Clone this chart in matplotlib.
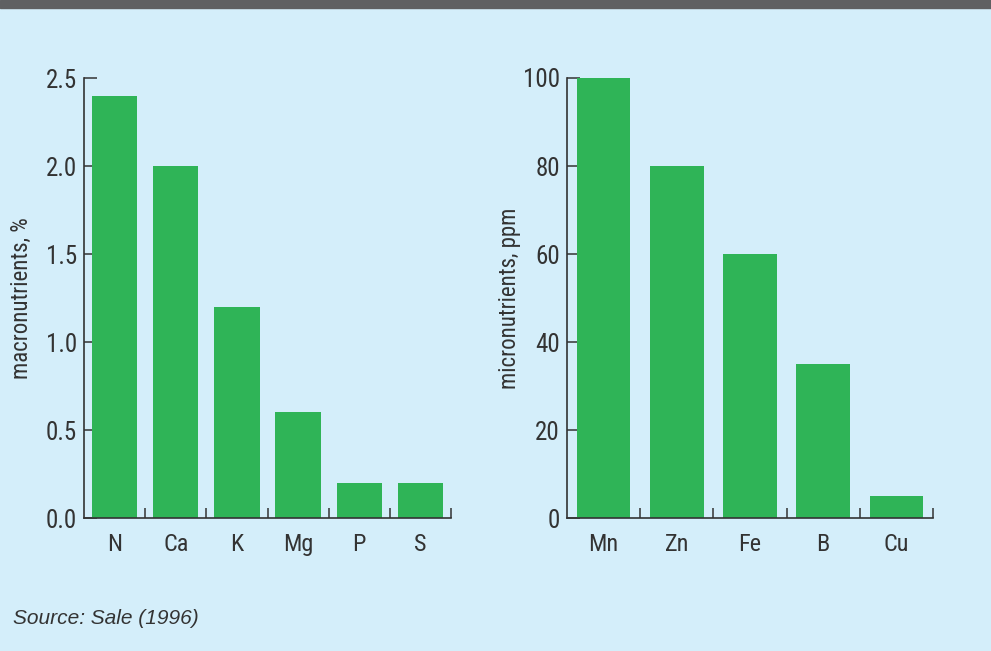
import matplotlib.pyplot as plt
from matplotlib.patches import Rectangle

narrow = ["Roboto Condensed", "Liberation Sans", "DejaVu Sans"]

macro_names = ["N", "Ca", "K", "Mg", "P", "S"]
macro_vals = [2.4, 2.0, 1.2, 0.6, 0.2, 0.2]
micro_names = ["Mn", "Zn", "Fe", "B", "Cu"]
micro_vals = [100, 80, 60, 35, 5]

bg = "#d4eefa"
green = "#2fb457"
ink = "#333333"

fig = plt.figure(figsize=(9.91, 6.51), dpi=100, facecolor=bg)
fig.patches.append(Rectangle((0, 1 - 8 / 651), 1, 8 / 651, transform=fig.transFigure,
                             color="#5f6062", zorder=0))

ax1 = fig.add_axes([84 / 991, 1 - 518 / 651, 367 / 991, 440 / 651])
ax2 = fig.add_axes([567 / 991, 1 - 518 / 651, 366 / 991, 440 / 651])


def style(ax, names_, vals, ymax, yticks, ylabel, fmt, width):
    ax.set_facecolor(bg)
    x = range(len(names_))
    ax.bar(x, vals, width=width, color=green, zorder=2)
    ax.set_xlim(-0.5, len(names_) - 0.5)
    ax.set_ylim(0, ymax)
    for s in ["top", "right"]:
        ax.spines[s].set_visible(False)
    for s in ["left", "bottom"]:
        ax.spines[s].set_color(ink)
        ax.spines[s].set_linewidth(1.2)
    ax.set_xticks(list(x))
    ax.set_xticklabels(names_, fontfamily=narrow, fontsize=17.5, color=ink)
    ax.tick_params(axis="x", which="major", length=0, pad=11)
    ax.set_xticks([i + 0.5 for i in x], minor=True)
    ax.tick_params(axis="x", which="minor", direction="in", length=7, width=1.1, color=ink)
    ax.set_yticks(yticks)
    ax.set_yticklabels([fmt.format(v) for v in yticks], fontfamily=narrow, fontsize=18, color=ink)
    ax.tick_params(axis="y", direction="in", length=9, width=1.1, color=ink, pad=5)
    ax.set_ylabel(ylabel, fontfamily=narrow, fontsize=16.5, color=ink)


style(ax1, macro_names, macro_vals, 2.5, [0, 0.5, 1.0, 1.5, 2.0, 2.5],
      "macronutrients, %", "{:.1f}", 0.74)
ax1.yaxis.set_label_coords(-0.138, 0.5)
style(ax2, micro_names, micro_vals, 100, [0, 20, 40, 60, 80, 100],
      "micronutrients, ppm", "{:.0f}", 0.73)
ax2.yaxis.set_label_coords(-0.125, 0.5)

fig.text(13 / 991, 1 - 618 / 651, "Source: Sale (1996)", fontsize=15, style="italic",
         color=ink, fontfamily="Liberation Sans", va="center")

fig.savefig("out.png", dpi=100, facecolor=bg)
